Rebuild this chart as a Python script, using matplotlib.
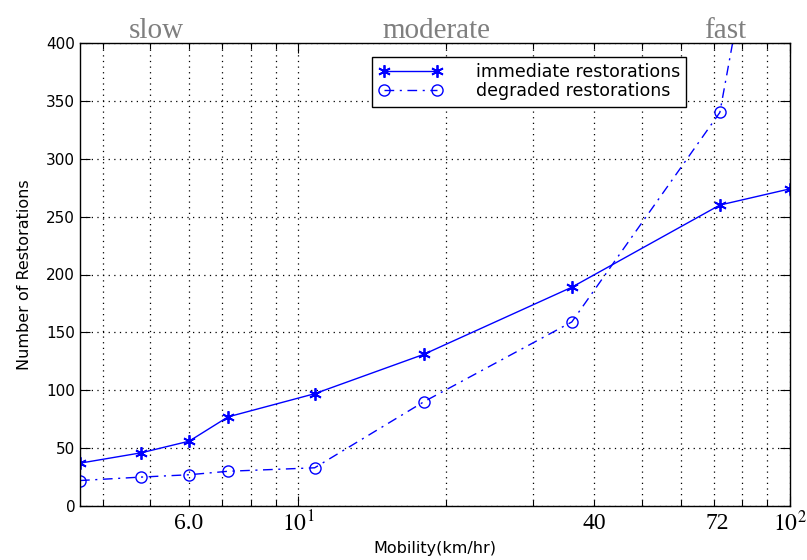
import matplotlib
matplotlib.use('Agg')
import matplotlib.pyplot as plt
import matplotlib.ticker as ticker
from matplotlib.transforms import blended_transform_factory

# Mobility in km/hr (1, 1.33, 1.67, 2, 3, 5, 10, 20, 27.8 m/s).
mobility = [3.6, 4.8, 6.0, 7.2, 10.8, 18.0, 36.0, 72.0, 100.0]
immediate = [37, 46, 56, 77, 97, 131, 189, 260, 274]
degraded = [22, 25, 27, 30, 33, 90, 159, 340, 670]

x_tick_pos = [6, 10, 40, 71, 100]
x_tick_text = ['6.0', '$10^{1}$', '40', '72', '$10^{2}$']

speed_names = ['slow', 'moderate', 'fast']
speed_name_x = [156, 436, 725]     # figure pixels


def main():
    plt.rcParams['mathtext.fontset'] = 'stix'

    fig = plt.figure(figsize=(8.07, 5.6), dpi=100)
    ax = fig.add_axes([80 / 807, 1 - 506 / 560, 710 / 807, 463 / 560])

    # MATLAB-like asterisk: six spokes.
    asterisk = (6, 2, 0)
    ax.plot(mobility, immediate, color='#0000ff', linestyle='-', linewidth=1.0,
            marker=asterisk, markersize=9, markeredgewidth=1.3,
            label='immediate restorations')
    ax.plot(mobility, degraded, color='#0000ff', linewidth=1.0,
            dashes=(7, 4, 1.5, 4), marker='o', markersize=8,
            markerfacecolor='none', markeredgewidth=1.0,
            label='degraded restorations')

    ax.set_xscale('log')
    ax.set_xlim(3.6, 100)
    ax.set_ylim(0, 400)
    ax.set_yticks(range(0, 401, 50))

    ax.xaxis.set_major_formatter(ticker.NullFormatter())
    ax.xaxis.set_minor_formatter(ticker.NullFormatter())

    ax.tick_params(which='both', direction='in', top=True, right=True,
                   labelsize=11, colors='k')
    ax.tick_params(which='major', length=7, width=0.8)
    ax.tick_params(which='minor', length=4, width=0.8)

    ax.grid(True, which='both', linestyle=(0, (1, 3.5)), color='k',
            linewidth=0.9)
    for spine in ax.spines.values():
        spine.set_linewidth(1.0)

    trans = blended_transform_factory(ax.transData, ax.transAxes)
    for pos, text in zip(x_tick_pos, x_tick_text):
        ax.text(pos, -0.038, text, transform=trans, ha='center', va='center',
                fontsize=17, family='Liberation Serif')

    ax.set_xlabel('Mobility(km/hr)', fontsize=11.5, labelpad=22)
    ax.set_ylabel('Number of Restorations', fontsize=11.5, labelpad=10)

    for name, px in zip(speed_names, speed_name_x):
        fig.text(px / 807, 1 - 38.5 / 560, name, ha='center', va='baseline',
                 fontsize=21, family='Liberation Serif', color='#7f7f7f')

    leg = ax.legend(loc='upper left', bbox_to_anchor=(0.411, 0.97),
                    fontsize=12.5, frameon=True, fancybox=False,
                    edgecolor='k', framealpha=1, borderpad=0.38,
                    labelspacing=0.05, handlelength=3.7, handletextpad=1.9,
                    numpoints=2, borderaxespad=0)
    leg.get_frame().set_linewidth(1.0)

    fig.savefig('out.png', dpi=100)
    plt.close(fig)


if __name__ == '__main__':
    main()
